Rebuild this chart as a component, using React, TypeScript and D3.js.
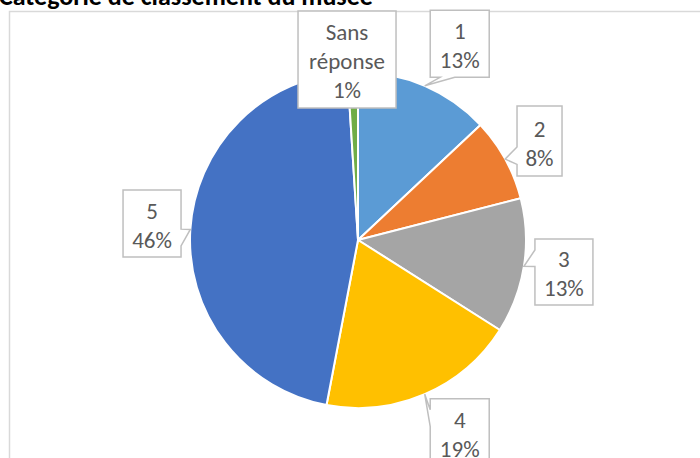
import React from 'react';
import * as d3 from 'd3';

const title = 'Catégorie de classement du musée';
const categories = ['1', '2', '3', '4', '5', 'Sans réponse'];
const values = [13, 8, 13, 19, 46, 1];
const colors = ['#5B9BD5', '#ED7D31', '#A5A5A5', '#FFC000', '#4472C4', '#70AD47'];

// callout layout: offset of box centre from the slice's outer mid-point, box size
const calloutLayout = [
  { dx: 35, dy: -42, w: 59, h: 67 },
  { dx: 34.3, dy: -18, w: 45, h: 70 },
  { dx: 40, dy: 5.7, w: 58, h: 66 },
  { dx: 35, dy: 38, w: 59, h: 67 },
  { dx: -38.3, dy: -5.9, w: 58, h: 67 },
  { dx: -5.7, dy: -12.6, w: 98, h: 97 },
];

const W = 700;
const H = 458;
const CX = 358;
const CY = 240;
const R = 168;
const FONT = 'Carlito, Calibri, Lato, sans-serif';

function calloutPath(cx: number, cy: number, w: number, h: number, tx: number, ty: number) {
  const l = cx - w / 2, t = cy - h / 2, r = cx + w / 2, b = cy + h / 2;
  const dxPos = tx - cx, dyPos = ty - cy;
  if (Math.abs(dxPos) <= w / 2 && Math.abs(dyPos) <= h / 2) {
    return `M${l},${t}L${r},${t}L${r},${b}L${l},${b}Z`;
  }
  const dxn = (dxPos * h) / w;
  const x1 = l + (w * (dxPos > 0 ? 7 : 2)) / 12;
  const x2 = l + (w * (dxPos > 0 ? 10 : 5)) / 12;
  const y1 = t + (h * (dyPos > 0 ? 7 : 2)) / 12;
  const y2 = t + (h * (dyPos > 0 ? 10 : 5)) / 12;
  if (Math.abs(dxn) > Math.abs(dyPos)) {
    if (dxn < 0) return `M${l},${t}L${r},${t}L${r},${b}L${l},${b}L${l},${y2}L${tx},${ty}L${l},${y1}Z`;
    return `M${l},${t}L${r},${t}L${r},${y1}L${tx},${ty}L${r},${y2}L${r},${b}L${l},${b}Z`;
  }
  if (dyPos < 0) return `M${l},${t}L${x1},${t}L${tx},${ty}L${x2},${t}L${r},${t}L${r},${b}L${l},${b}Z`;
  return `M${l},${t}L${r},${t}L${r},${b}L${x2},${b}L${tx},${ty}L${x1},${b}L${l},${b}Z`;
}

export default function App() {
  const total = d3.sum(values);
  const pie = d3.pie<number>().sort(null).value((d) => d);
  const arcs = pie(values);
  const arc = d3.arc<d3.PieArcDatum<number>>().innerRadius(0).outerRadius(R);
  const pct = d3.format('.0%');

  return (
    <svg
      width={W}
      height={H}
      style={{ position: 'absolute', left: 0, top: 0, background: '#fff' }}
    >
      <rect x={0} y={0} width={W} height={H} fill="#fff" />
      <text x={-1} y={5} fontFamily={FONT} fontSize={26} fontWeight={700} fill="#000">
        {title}
      </text>
      <path d={`M9.5,${H}L9.5,11.5L${W},11.5`} fill="none" stroke="#D9D9D9" strokeWidth={1.5} />
      <g transform={`translate(${CX},${CY})`}>
        {arcs.map((a, i) => (
          <path key={i} d={arc(a) || ''} fill={colors[i]} stroke="#fff" strokeWidth={2} strokeLinejoin="round" />
        ))}
      </g>
      {arcs.map((a, i) => {
        const mid = (a.startAngle + a.endAngle) / 2;
        const tx = CX + R * Math.sin(mid);
        const ty = CY - R * Math.cos(mid);
        const lay = calloutLayout[i];
        const bx = tx + lay.dx;
        const by = ty + lay.dy;
        const lines = [...categories[i].split(' '), pct(values[i] / total)];
        const lh = 29;
        const y0 = by + 2 - ((lines.length - 1) * lh) / 2;
        return (
          <g key={'c' + i}>
            <path d={calloutPath(bx, by, lay.w, lay.h, tx, ty)} fill="#fff" stroke="#BFBFBF" strokeWidth={1.5} />
            {lines.map((s, j) => (
              <text
                key={j}
                x={bx}
                y={y0 + j * lh}
                textAnchor="middle"
                dominantBaseline="central"
                fontFamily={FONT}
                fontSize={23}
                fill="#595959"
              >
                {s}
              </text>
            ))}
          </g>
        );
      })}
    </svg>
  );
}
